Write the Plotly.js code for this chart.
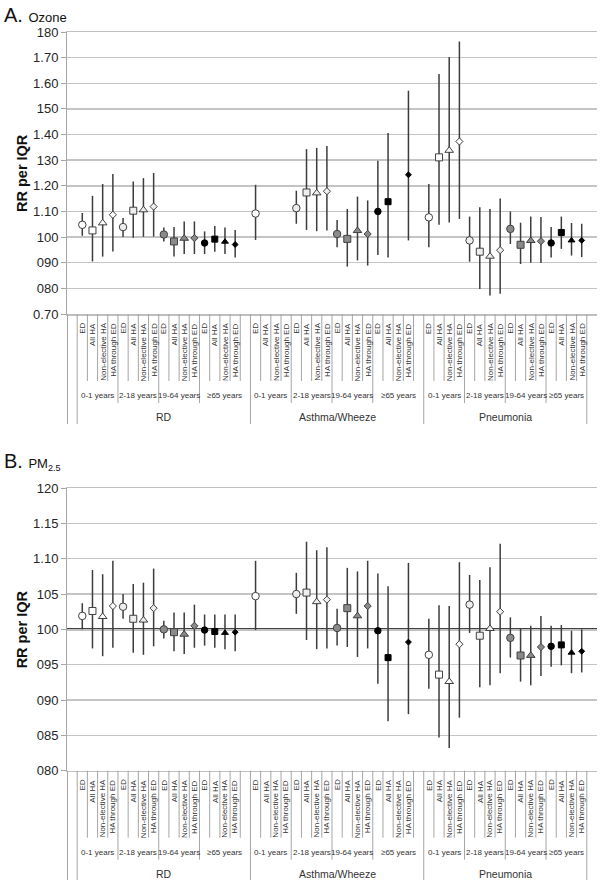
<!DOCTYPE html>
<html><head><meta charset="utf-8">
<script src="https://cdn.plot.ly/plotly-3.0.1.min.js"></script>
<style>body{margin:0;background:#fff}#chart{width:600px;height:880px}</style>
</head><body><div id="chart"></div>
<script>
// ---------- categories ----------
const outcomes = ["RD", "Asthma/Wheeze", "Pneumonia"];
const ageGroups = ["0-1 years", "2-18 years", "19-64 years", "≥65 years"];
const visitTypes = ["ED", "All HA", "Non-elective HA", "HA through ED"];

// ---------- tick labels ----------
const ozoneTickVals = [0.7, 0.8, 0.9, 1.0, 1.1, 1.2, 1.3, 1.4, 1.5, 1.6, 1.7, 1.8];
const ozoneTickText = ["0.70", "080", "090", "100", "1.10", "1.20", "130", "1.40", "150", "1.60", "1.70", "180"];
const pmTickVals = [0.80, 0.85, 0.90, 0.95, 1.00, 1.05, 1.10, 1.15, 1.20];
const pmTickText = ["080", "085", "090", "095", "100", "105", "1.10", "1.15", "120"];

// ---------- data: order outcome -> age group -> visit type ----------
const ozoneRR = [
  1.048, 1.026, 1.055, 1.087,  1.039, 1.103, 1.106, 1.119,  1.010, 0.983, 0.995, 0.996,  0.977, 0.992, 0.982, 0.971,
  1.092, null, null, null,     1.113, 1.174, 1.172, 1.179,  1.012, 0.993, 1.025, 1.012,  1.100, 1.138, null, 1.243,
  1.077, 1.311, 1.338, 1.373,  0.987, 0.943, 0.925, 0.949,  1.032, 0.970, 0.986, 0.984,  0.977, 1.018, 0.987, 0.987
];
const ozoneLo = [
  1.005, 0.905, 0.924, 0.944,  1.000, 0.997, 1.001, 1.002,  0.983, 0.924, 0.934, 0.934,  0.934, 0.943, 0.934, 0.920,
  0.989, null, null, null,     1.052, 1.028, 1.023, 1.026,  0.960, 0.885, 0.909, 0.889,  0.930, 0.920, null, 0.987,
  0.960, 1.048, 1.057, 1.071,  0.904, 0.798, 0.772, 0.779,  0.973, 0.895, 0.900, 0.899,  0.920, 0.954, 0.928, 0.922
];
const ozoneHi = [
  1.094, 1.161, 1.207, 1.246,  1.074, 1.217, 1.230, 1.250,  1.037, 1.039, 1.061, 1.061,  1.022, 1.043, 1.037, 1.028,
  1.204, null, null, null,     1.181, 1.343, 1.348, 1.355,  1.067, 1.110, 1.158, 1.143,  1.298, 1.406, null, 1.571,
  1.207, 1.636, 1.702, 1.763,  1.080, 1.116, 1.110, 1.151,  1.100, 1.056, 1.080, 1.078,  1.039, 1.080, 1.055, 1.052
];

const pmRR = [
  1.019, 1.026, 1.018, 1.033,  1.032, 1.015, 1.013, 1.030,  1.000, 0.996, 0.993, 1.005,  0.999, 0.997, 0.995, 0.996,
  1.047, null, null, null,     1.050, 1.052, 1.039, 1.042,  1.002, 1.030, 1.019, 1.033,  0.998, 0.960, null, 0.982,
  0.964, 0.936, 0.926, 0.979,  1.035, 0.991, 1.001, 1.025,  0.988, 0.963, 0.963, 0.975,  0.976, 0.978, 0.967, 0.969
];
const pmLo = [
  1.000, 0.973, 0.962, 0.974,  1.015, 0.967, 0.964, 0.976,  0.987, 0.969, 0.965, 0.974,  0.977, 0.974, 0.972, 0.969,
  0.999, null, null, null,     1.022, 0.985, 0.972, 0.973,  0.977, 0.975, 0.961, 0.973,  0.923, 0.870, null, 0.880,
  0.916, 0.847, 0.832, 0.875,  0.995, 0.918, 0.921, 0.938,  0.960, 0.926, 0.921, 0.934,  0.947, 0.949, 0.938, 0.939
];
const pmHi = [
  1.037, 1.084, 1.078, 1.097,  1.050, 1.064, 1.066, 1.086,  1.012, 1.024, 1.024, 1.035,  1.021, 1.021, 1.021, 1.021,
  1.097, null, null, null,     1.080, 1.124, 1.112, 1.116,  1.029, 1.087, 1.082, 1.097,  1.079, 1.061, null, 1.094,
  1.015, 1.034, 1.033, 1.095,  1.077, 1.070, 1.088, 1.121,  1.017, 1.001, 1.005, 1.019,  1.005, 1.006, 0.998, 1.000
];

// ---------- styling ----------
const W = 600, H = 880;
const fx = p => p / W, fy = p => 1 - p / H;
const ageFill = ["#ffffff", "#eeeeee", "#8a8a8a", "#000000"];
const ageLine = ["#404040", "#404040", "#404040", "#000000"];
const typeSymbol = ["circle", "square", "triangle-up", "diamond"];
const typeSize = [[7.5, 7, 7.5, 5.5], [7.5, 7, 7.5, 5.5], [7.5, 7, 7.5, 5.5], [6.5, 6, 6, 4.5]];
const labelFont = "Liberation Sans, Arial, sans-serif";

const slot = (g, a, t) => 1 + g * 17 + a * 4 + t;

const panels = [
  {xa: "x", ya: "y", rr: ozoneRR, lo: ozoneLo, hi: ozoneHi, top: 32, bottom: 314,
   range: [0.7, 1.8], tv: ozoneTickVals, tt: ozoneTickText, title: "A. <span style='font-size:13px'>Ozone</span>", titleY: 2},
  {xa: "x2", ya: "y2", rr: pmRR, lo: pmLo, hi: pmHi, top: 488, bottom: 770.7,
   range: [0.8, 1.2], tv: pmTickVals, tt: pmTickText, title: "B. <span style='font-size:13px'>PM<sub>2.5</sub></span>", titleY: 448}
];

const traces = [];
const shapes = [];
const annotations = [];
const layout = {
  width: W, height: H, margin: {l: 0, r: 0, t: 0, b: 0},
  paper_bgcolor: "#fff", plot_bgcolor: "#fff", showlegend: false,
  font: {family: "Liberation Sans, Arial, sans-serif", color: "#262626"}
};

const groupBounds = [0.5, 17.5, 34.5, 50.5];
const ageBounds = [4.5, 8.5, 12.5, 21.5, 25.5, 29.5, 38.5, 42.5, 46.5];

panels.forEach((P, pi) => {
  const sfx = pi === 0 ? "" : "2";
  layout["xaxis" + sfx] = {
    domain: [fx(67), fx(597)], range: [-0.5, 51.5], anchor: "y" + sfx,
    showticklabels: false, showgrid: false, zeroline: false, ticks: "",
    showline: true, linecolor: "#bfbfbf", linewidth: 1.5, mirror: true, fixedrange: true
  };
  layout["yaxis" + sfx] = {
    domain: [fy(P.bottom), fy(P.top)], range: P.range, anchor: "x" + sfx,
    tickvals: P.tv, ticktext: P.tt, tickfont: {size: 13, color: "#262626"},
    showgrid: true, gridcolor: "#c4c4c4", gridwidth: 1.5, zeroline: false,
    showline: true, linecolor: "#a6a6a6", linewidth: 1, ticks: "outside", ticklen: 5,
    tickcolor: "#a6a6a6", fixedrange: true
  };

  // data traces
  for (let a = 0; a < 4; a++) {
    for (let t = 0; t < 4; t++) {
      const xs = [], ys = [], ep = [], em = [];
      for (let g = 0; g < 3; g++) {
        const i = g * 16 + a * 4 + t;
        xs.push(slot(g, a, t));
        ys.push(P.rr[i]);
        ep.push(P.rr[i] == null ? null : P.hi[i] - P.rr[i]);
        em.push(P.rr[i] == null ? null : P.rr[i] - P.lo[i]);
      }
      traces.push({
        type: "scatter", mode: "markers", xaxis: P.xa, yaxis: P.ya,
        x: xs, y: ys, name: ageGroups[a] + " " + visitTypes[t],
        marker: {symbol: typeSymbol[t], size: typeSize[a][t], color: ageFill[a],
                 line: {color: ageLine[a], width: 1}},
        error_y: {type: "data", symmetric: false, array: ep, arrayminus: em,
                  width: 0, thickness: 1.5, color: "#3c3c3c"},
        cliponaxis: false, hoverinfo: "skip"
      });
    }
  }

  // reference line at RR = 1
  shapes.push({type: "line", xref: "paper", yref: P.ya, x0: fx(67), x1: fx(597), y0: 1, y1: 1,
               line: {color: "#000", width: 2}, layer: "between"});

  // category axis separator lines
  for (let k = -1; k <= 50; k++) {
    const xv = k + 0.5;
    let len = 67;
    if (k === -1 || groupBounds.includes(xv)) len = 110;
    else if (ageBounds.includes(xv)) len = 89;
    const s = {type: "line", yref: "paper", y0: fy(P.bottom), y1: fy(P.bottom + len),
               line: {color: "#a6a6a6", width: 1}};
    if (k === -1) { s.xref = "paper"; s.x0 = s.x1 = fx(67.5); }
    else { s.xref = P.xa; s.x0 = s.x1 = xv; }
    shapes.push(s);
  }

  // category labels
  for (let g = 0; g < 3; g++) for (let a = 0; a < 4; a++) for (let t = 0; t < 4; t++) {
    annotations.push({xref: P.xa, yref: "paper", x: slot(g, a, t), y: fy(P.bottom + 7),
      xanchor: "center", yanchor: "top", textangle: -90, showarrow: false,
      text: visitTypes[t], font: {family: labelFont, size: 8, color: "#333"}});
  }
  // age labels
  const ageCenters = [[2.5, 6.5, 10.5, 15], [19.5, 23.5, 27.5, 32], [36.5, 40.5, 44.5, 48.5]];
  for (let g = 0; g < 3; g++) for (let a = 0; a < 4; a++) {
    annotations.push({xref: P.xa, yref: "paper", x: ageCenters[g][a], y: fy(P.bottom + 82),
      xanchor: "center", yanchor: "middle", showarrow: false,
      text: ageGroups[a], font: {family: labelFont, size: 8, color: "#333"}});
  }
  // outcome labels
  const grpCenters = [9, 26, 42.5];
  for (let g = 0; g < 3; g++) {
    annotations.push({xref: P.xa, yref: "paper", x: grpCenters[g], y: fy(P.bottom + 103),
      xanchor: "center", yanchor: "middle", showarrow: false,
      text: outcomes[g], font: {family: labelFont, size: 10.5, color: "#333"}});
  }
  // y title
  annotations.push({xref: "paper", yref: "paper", x: fx(22), y: fy((P.top + P.bottom) / 2),
    xanchor: "center", yanchor: "middle", textangle: -90, showarrow: false,
    text: "<b>RR per IQR</b>", font: {family: "Liberation Sans, Arial, sans-serif", size: 14.5, color: "#111"}});
  // panel title
  annotations.push({xref: "paper", yref: "paper", x: fx(2), y: fy(P.titleY), xanchor: "left", yanchor: "top",
    showarrow: false, text: P.title, font: {family: "Liberation Sans, Arial, sans-serif", size: 20, color: "#111"}});
});

layout.shapes = shapes;
layout.annotations = annotations;
Plotly.newPlot("chart", traces, layout, {staticPlot: true, displayModeBar: false});
</script>
</body></html>
